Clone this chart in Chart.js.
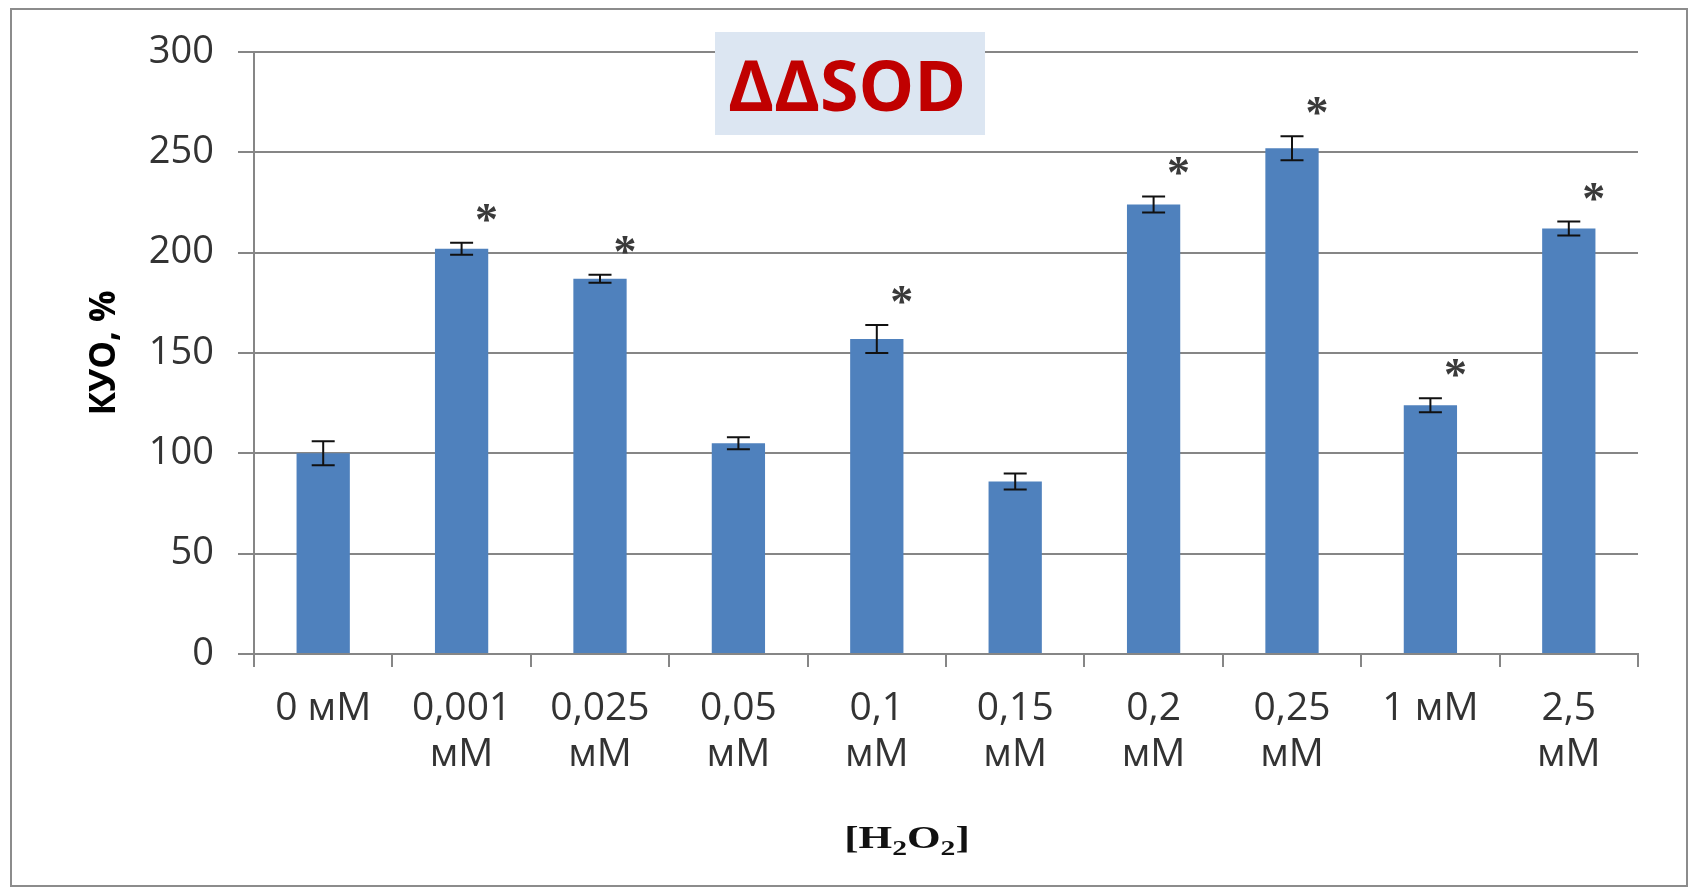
<!DOCTYPE html>
<html>
<head>
<meta charset="utf-8">
<script src="https://cdn.jsdelivr.net/npm/chart.js@4.4.1/dist/chart.umd.min.js"></script>
<style>
  html, body { margin: 0; padding: 0; background: #ffffff; }
  #wrap { position: relative; width: 1690px; height: 888px; overflow: hidden; }
  #frame { position: absolute; left: 10px; top: 8px; width: 1678px; height: 879px; border: 2px solid #8c8c8c; box-sizing: border-box; }
  #chart { position: absolute; left: 0; top: 0; }
</style>
</head>
<body>
<div id="wrap">
  <div id="frame"></div>
  <canvas id="chart" width="1690" height="888"></canvas>
</div>
<script>
// ---- data ----
const categories = [
  ['0 мМ'], ['0,001', 'мМ'], ['0,025', 'мМ'], ['0,05', 'мМ'], ['0,1', 'мМ'],
  ['0,15', 'мМ'], ['0,2', 'мМ'], ['0,25', 'мМ'], ['1 мМ'], ['2,5', 'мМ']
];
const values = [100, 202, 187, 105, 157, 86, 224, 252, 124, 212];
const errors = [6, 3, 2, 3, 7, 4, 4, 6, 3.5, 3.5];
const significant = [false, true, true, false, true, false, true, true, true, true];
const yMin = 0;
const yMax = 300;
const yStep = 50;
const chartTitle = 'ΔΔSOD';
const yTitle = 'КУО, %';
const xTitleParts = [['[H', false], ['2', true], ['O', false], ['2', true], [']', false]];
const starMark = '*';

// ---- plugins ----
const errorBarPlugin = {
  id: 'errorBars',
  afterDatasetsDraw(chart) {
    const ctx = chart.ctx;
    const meta = chart.getDatasetMeta(0);
    const ys = chart.scales.y;
    ctx.save();
    meta.data.forEach((bar, i) => {
      const x = bar.x;
      const yt = ys.getPixelForValue(values[i] + errors[i]);
      const yb = ys.getPixelForValue(values[i] - errors[i]);
      ctx.strokeStyle = '#111111';
      ctx.lineWidth = 2;
      ctx.beginPath();
      ctx.moveTo(x, yt); ctx.lineTo(x, yb);
      ctx.moveTo(x - 11.5, yt); ctx.lineTo(x + 11.5, yt);
      ctx.moveTo(x - 11.5, yb); ctx.lineTo(x + 11.5, yb);
      ctx.stroke();
      if (significant[i]) {
        ctx.fillStyle = '#3a3a3a';
        ctx.font = 'bold 46px "Liberation Serif"';
        ctx.textAlign = 'center';
        ctx.textBaseline = 'alphabetic';
        ctx.fillText(starMark, x + 25, yt - 32 + 24);
      }
    });
    ctx.restore();
  }
};

const decorPlugin = {
  id: 'decor',
  afterDraw(chart) {
    const ctx = chart.ctx;
    ctx.save();
    // title box
    ctx.fillStyle = '#dce6f2';
    ctx.fillRect(715, 32, 270, 103);
    ctx.fillStyle = '#c00000';
    ctx.font = 'bold 70px "Open Sans"';
    ctx.textAlign = 'center';
    ctx.textBaseline = 'middle';
    ctx.fillText(chartTitle, 847, 91);
    // x axis title with subscripts
    const big = 'bold 32px "Liberation Serif"';
    const small = 'bold 22px "Liberation Serif"';
    let total = 0;
    xTitleParts.forEach(([t, sub]) => { ctx.font = sub ? small : big; total += ctx.measureText(t).width; });
    const sx = 1.35;
    const cx = 907, baseY = 848;
    ctx.translate(cx, baseY);
    ctx.scale(sx, 1);
    let x = -total / 2;
    ctx.fillStyle = '#111111';
    ctx.textAlign = 'left';
    ctx.textBaseline = 'alphabetic';
    xTitleParts.forEach(([t, sub]) => {
      ctx.font = sub ? small : big;
      ctx.fillText(t, x, sub ? 7 : 0);
      x += ctx.measureText(t).width;
    });
    ctx.restore();
  }
};

new Chart(document.getElementById('chart'), {
  type: 'bar',
  data: {
    labels: categories,
    datasets: [{
      data: values,
      backgroundColor: '#4f81bd',
      borderWidth: 0,
      categoryPercentage: 1,
      barPercentage: 0.385
    }]
  },
  options: {
    responsive: false,
    animation: false,
    events: [],
    layout: { padding: { left: 0, top: 52, right: 52, bottom: 0 } },
    plugins: { legend: { display: false }, tooltip: { enabled: false }, title: { display: false } },
    scales: {
      x: {
        offset: true,
        grid: { offset: true, drawOnChartArea: false, drawTicks: true, tickLength: 13, color: '#868686', lineWidth: 2 },
        border: { display: true, color: '#868686', width: 2 },
        ticks: {
          color: '#333333',
          font: { family: '"Open Sans"', size: 39, lineHeight: 1.2 },
          padding: 18,
          maxRotation: 0,
          autoSkip: false
        },
        afterFit(scale) { scale.height = 234; }
      },
      y: {
        min: yMin,
        max: yMax,
        ticks: {
          stepSize: yStep,
          color: '#333333',
          font: { family: '"Open Sans"', size: 38 },
          padding: 24
        },
        grid: { color: '#868686', lineWidth: 2, tickLength: 16, drawTicks: true },
        border: { display: true, color: '#868686', width: 2 },
        title: {
          display: true,
          text: yTitle,
          color: '#000000',
          font: { family: '"Open Sans"', size: 35, weight: 'bold' },
          padding: { top: 84, bottom: 0 }
        },
        afterFit(scale) { scale.width = 254; }
      }
    }
  },
  plugins: [errorBarPlugin, decorPlugin]
});
</script>
</body>
</html>
